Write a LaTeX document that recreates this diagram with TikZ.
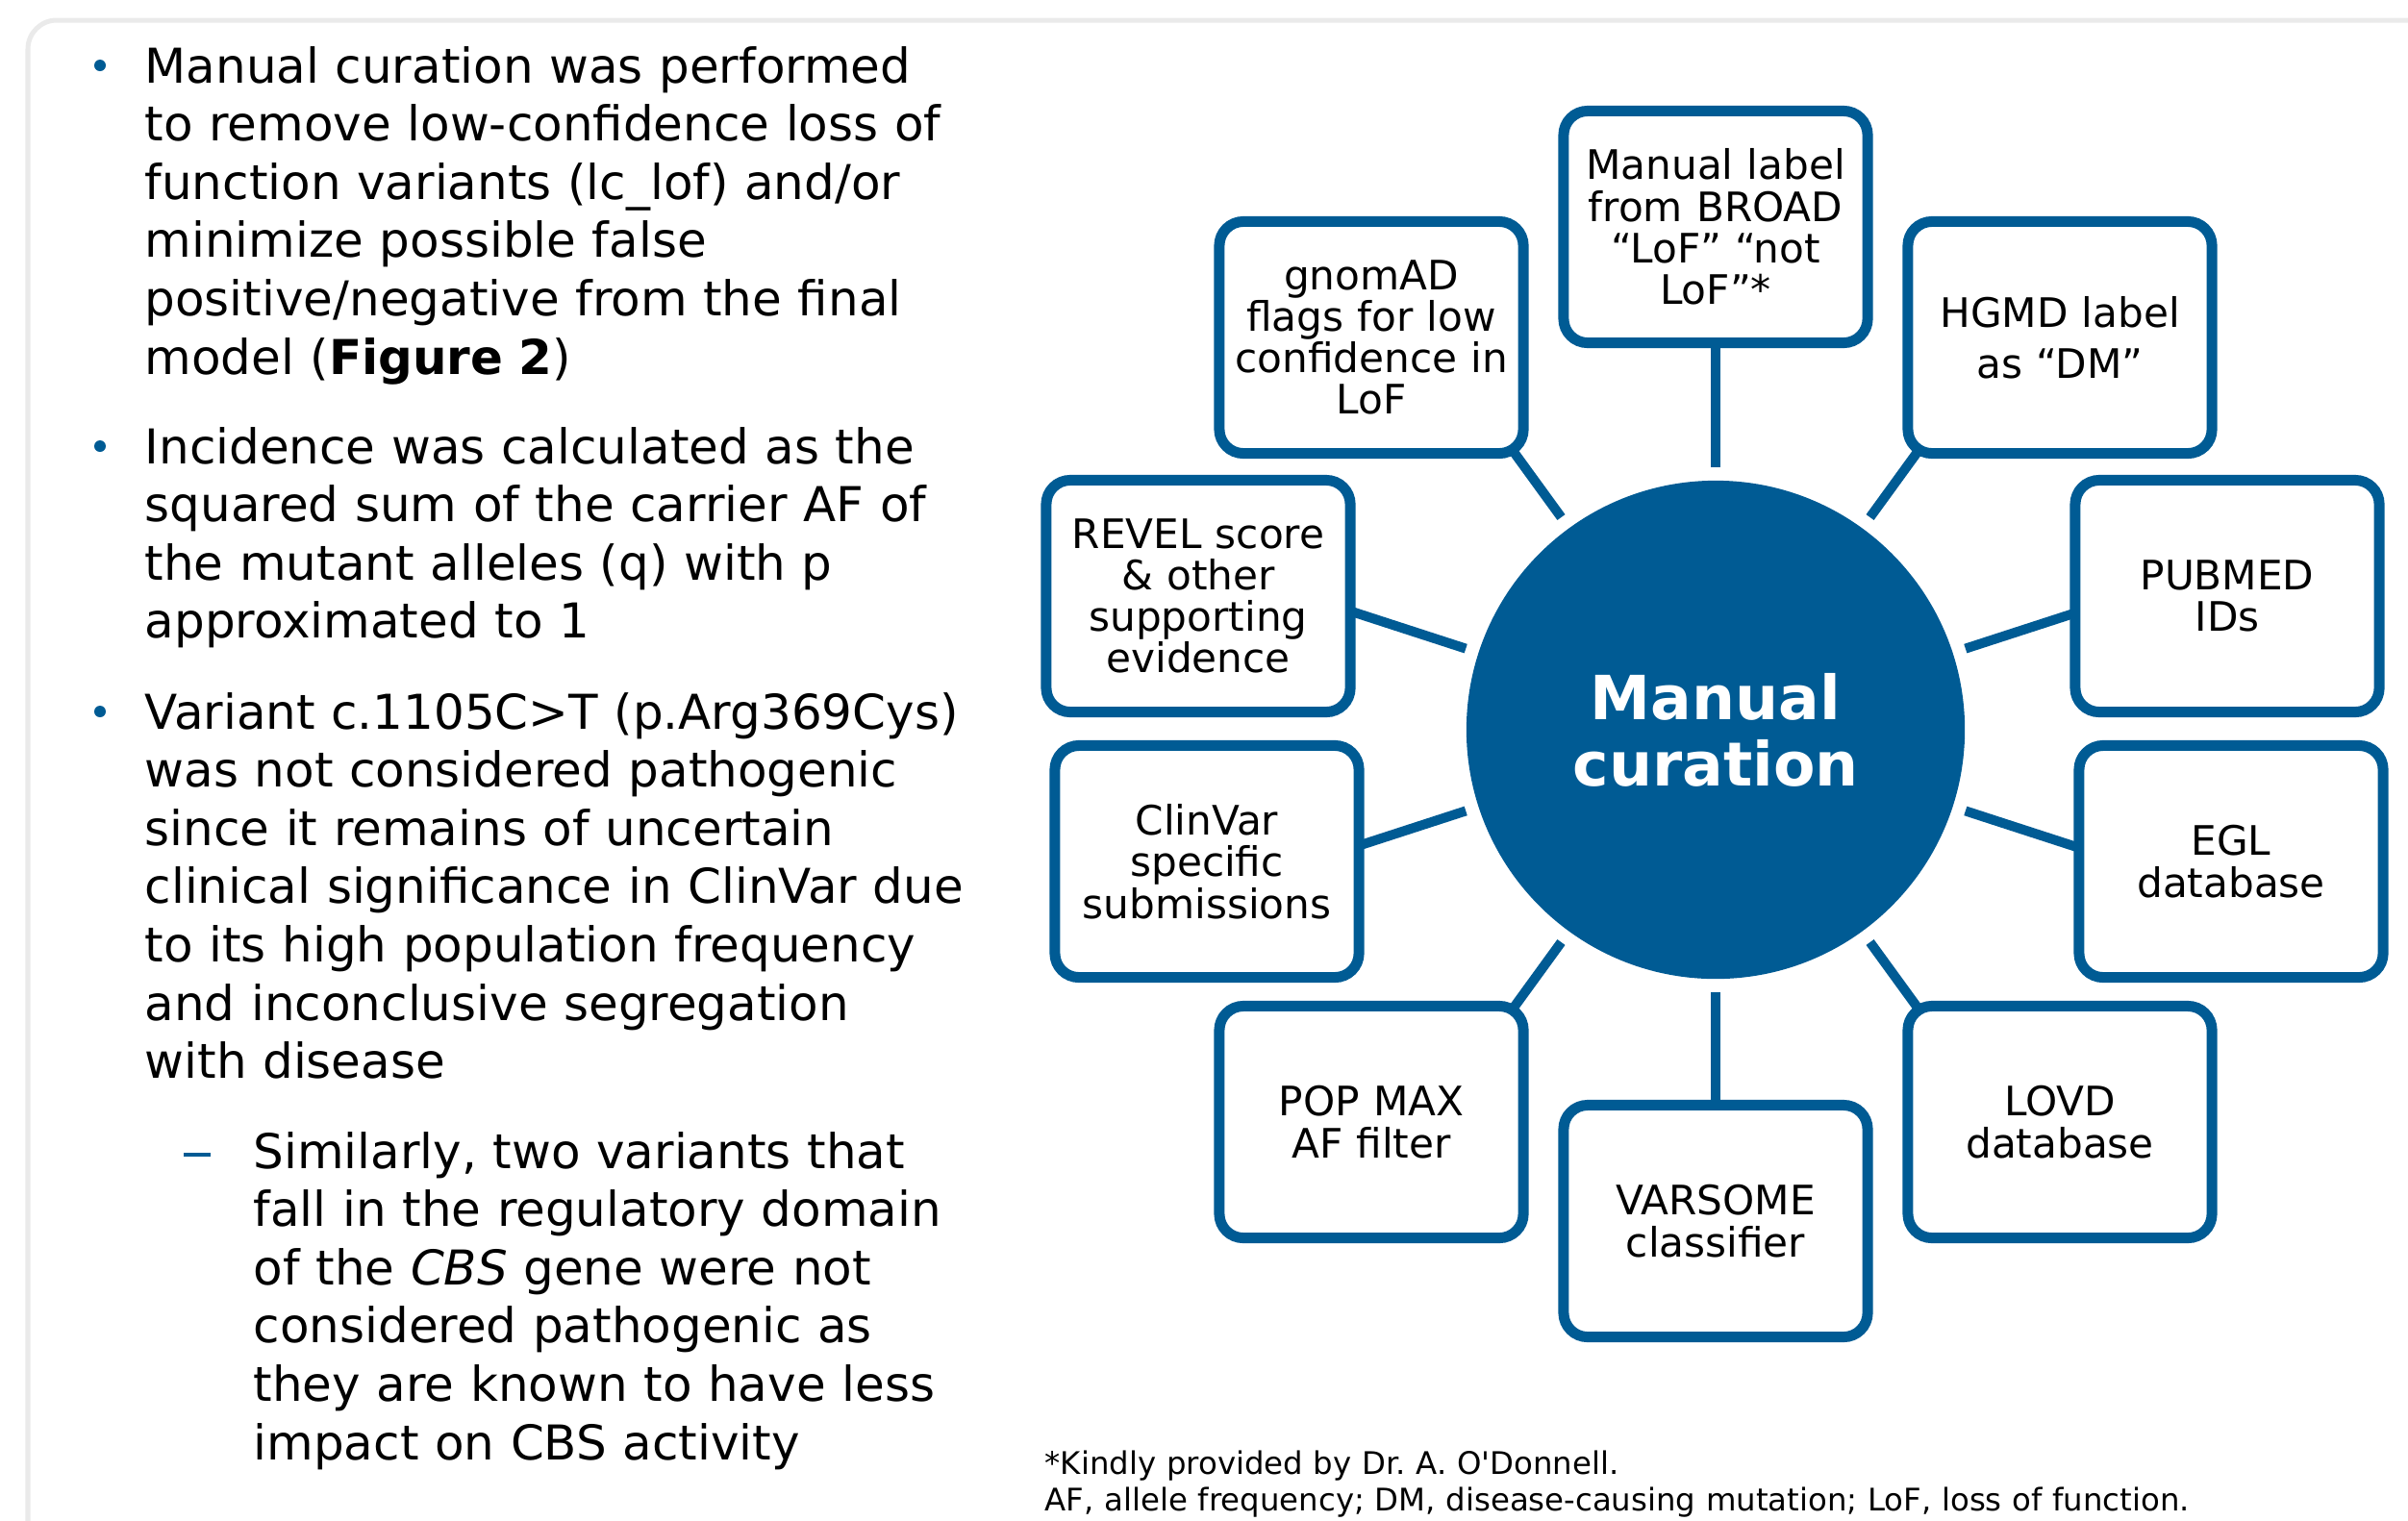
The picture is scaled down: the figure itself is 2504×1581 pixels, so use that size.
\documentclass[tikz,border=0pt]{standalone}
\usepackage{fontspec}
\setmainfont{DejaVu Sans}
\usetikzlibrary{backgrounds}
\usetikzlibrary{calc}
\definecolor{curblue}{RGB}{0,91,148}
\definecolor{framegray}{RGB}{234,234,234}
\newcommand{\boxw}{3.16cm}
\newcommand{\boxh}{2.41cm}
\newcommand{\hubsize}{5.18cm}
\newcommand{\hubgap}{0.14cm}
\newcommand{\bodyfont}{\fontsize{14.2}{17.24}\selectfont}
\newcommand{\boxfont}{\fontsize{12}{12.3}\selectfont}
\newcommand{\notefont}{\fontsize{9.2}{10.9}\selectfont}
\tikzset{
  topic/.style={draw=curblue, line width=0.11cm, fill=white,
    rounded corners=0.25cm, minimum width=\boxw, minimum height=\boxh,
    inner sep=0pt, text width=3.05cm, align=center, font=\boxfont},
  hubnode/.style={circle, fill=curblue, minimum size=\hubsize,
    outer sep=\hubgap, text=white, align=center,
    font=\fontsize{18}{19.6}\selectfont\bfseries},
  spoke/.style={draw=curblue, line width=0.1cm},
  para/.style={anchor=base west, inner sep=0pt, text width=#1,
    align=left, font=\bodyfont},
  para/.default=9.5cm,
  bullet/.style={circle, fill=curblue, inner sep=0pt, minimum size=0.12cm},
  subdash/.style={fill=curblue, inner sep=0pt, minimum width=0.28cm,
    minimum height=0.035cm},
}

\begin{document}
\begin{tikzpicture}[x=0.01cm, y=-0.01cm]
  \useasboundingbox (0,0) rectangle (2504,1581);
  % slide frame
  \draw[framegray, line width=0.05cm, rounded corners=0.3cm]
    (29,1700) -- (29,21) -- (2700,21);

  % bullet list
  \node[bullet] (b1) at (104,68) {};
  \node[para] (t1) at (150,86) {Manual curation was performed\\
    to remove low-confidence loss of\\
    function variants (lc\_lof) and/or\\
    minimize possible false\\
    positive/negative from the final\\
    model (\textbf{Figure 2})};
  \node[bullet] (b2) at (104,464) {};
  \node[para] (t2) at (150,482) {Incidence was calculated as the\\
    squared sum of the carrier AF of\\
    the mutant alleles (q) with p\\
    approximated to 1};
  \node[bullet] (b3) at (104,740) {};
  \node[para] (t3) at (150,758) {Variant c.1105C>T (p.Arg369Cys)\\
    was not considered pathogenic\\
    since it remains of uncertain\\
    clinical significance in ClinVar due\\
    to its high population frequency\\
    and inconclusive segregation\\
    with disease};
  \node[subdash] (d1) at (205,1201) {};
  \node[para] (t4) at (263,1215) {Similarly, two variants that\\
    fall in the regulatory domain\\
    of the \textit{CBS} gene were not\\
    considered pathogenic as\\
    they are known to have less\\
    impact on CBS activity};

  % hub and sources
  \node[hubnode] (hub) at (1784,759) {Manual\\curation};
  \node[topic] (broad) at (1784,236) {Manual label\\from BROAD\\“LoF” “not\\LoF”*};
  \node[topic] (gnomad) at (1426,351) {gnomAD\\flags for low\\confidence in\\LoF};
  \node[topic] (hgmd) at (2142,351) {HGMD label\\[0.1cm]as “DM”};
  \node[topic] (revel) at (1246,620) {REVEL score\\\& other\\supporting\\evidence};
  \node[topic] (pubmed) at (2316,620) {PUBMED\\IDs};
  \node[topic] (clinvar) at (1255,896) {ClinVar\\specific\\submissions};
  \node[topic] (egl) at (2320,896) {EGL\\database};
  \node[topic] (popmax) at (1426,1167) {POP MAX\\AF filter};
  \node[topic] (lovd) at (2142,1167) {LOVD\\database};
  \node[topic] (varsome) at (1784,1270) {VARSOME\\classifier};

  \begin{scope}[on background layer]
    \foreach \ang/\tgt in {90/broad, 126/gnomad, 54/hgmd, 162/revel,
        18/pubmed, 198/clinvar, 342/egl, 234/popmax, 306/lovd,
        270/varsome}
      \draw[spoke] (hub.\ang) -- ($(hub.center)!(\tgt.center)!(hub.\ang)$);
  \end{scope}

  % footnote
  \node[para=14cm, font=\notefont] (note) at (1086,1533)
    {*Kindly provided by Dr.\ A. O\textquotesingle Donnell.\\
    AF, allele frequency; DM, disease-causing mutation; LoF, loss of function.};
\end{tikzpicture}
\end{document}
